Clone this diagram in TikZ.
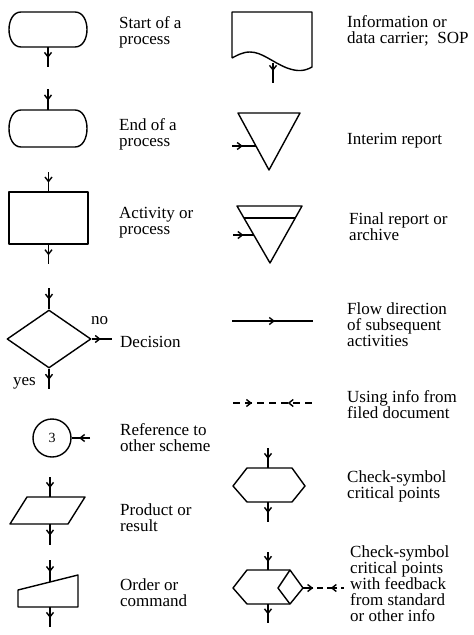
\documentclass[tikz,border=0pt]{standalone}
\usepackage{fontspec}
\setmainfont{Liberation Serif}
\usetikzlibrary{arrows.meta,decorations.markings,shapes.geometric}
\begin{document}
\begin{tikzpicture}[x=1pt,y=-1pt,
  shp/.style={draw, line width=1.4pt, line join=round},
  tipfwd/.style={decoration={markings, mark=at position #1 with {\arrow{Straight Barb[length=4.5pt,width=7pt,line width=1.4pt]}}}, postaction={decorate}},
  tiptwo/.style 2 args={decoration={markings,
      mark=at position #1 with {\arrow{Straight Barb[length=4.5pt,width=7pt,line width=1.4pt]}},
      mark=at position #2 with {\arrow{Straight Barb[length=4.5pt,width=7pt,line width=1.4pt,reversed]}}}, postaction={decorate}},
  conn/.style={line width=1.8pt, tipfwd=#1},
  conn/.default=0.55,
  lbl/.style={anchor=north west, inner sep=0pt, align=left, font=\fontsize{17}{16}\selectfont},
  lblb/.style={anchor=base west, inner sep=0pt, font=\fontsize{17}{16}\selectfont},
]
\useasboundingbox[fill=white] (0,0) rectangle (474,635);

% ---------- left column ----------
% Start of a process
\draw[shp] (21,12) -- (75,12) .. controls (91,12) and (91,47) .. (75,47) -- (21,47) .. controls (5,47) and (5,12) .. (21,12);
\coordinate (s1b) at (48,47); \coordinate (s1e) at (48,67);
\draw[conn] (s1b) -- (s1e);
\node[lbl] (t1) at (119,16) {Start of a\\process};

% End of a process
\draw[shp] (21,110) -- (75,110) .. controls (91,110) and (91,147) .. (75,147) -- (21,147) .. controls (5,147) and (5,110) .. (21,110);
\coordinate (s2a) at (48,89); \coordinate (s2b) at (48,110);
\draw[conn] (s2a) -- (s2b);
\node[lbl] (t2) at (119,118) {End of a\\process};

% Activity
\node[shp, rectangle, minimum width=79pt, minimum height=52pt, inner sep=0pt] (act) at (48.5,218) {};
\coordinate (acta) at (48.5,172); \coordinate (actb) at (48.5,264);
\draw[conn] (acta) -- (act.north);
\draw[conn] (act.south) -- (actb);
\node[lbl] (t3) at (119,207) {Activity or\\process};

% Decision
\node[shp, diamond, minimum width=84pt, minimum height=58pt, inner sep=0pt] (dec) at (49,339) {};
\coordinate (deca) at (49,288); \coordinate (decno) at (112,339); \coordinate (decyes) at (49,389);
\draw[conn] (deca) -- (dec.north);
\draw[conn=0.45] (dec.east) -- (decno);
\draw[conn] (dec.south) -- (decyes);
\node[lblb] (tno) at (91,324) {no};
\node[lblb] (tyes) at (13,385) {yes};
\node[lblb] (t4) at (120,347) {Decision};

% Reference
\node[shp, circle, minimum size=38pt, inner sep=0pt, font=\fontsize{14}{14}\selectfont] (ref) at (52,438) {3};
\coordinate (refa) at (90,438);
\draw[conn=0.6] (refa) -- (ref.east);
\node[lbl] (t5) at (120,423) {Reference to\\other scheme};

% Product
\draw[shp] (27,497) -- (85,497) -- (68,524) -- (10,524) -- cycle;
\coordinate (pa) at (50,477); \coordinate (pb) at (50,497);
\coordinate (pc) at (50,524); \coordinate (pd) at (50,545);
\draw[conn] (pa) -- (pb);
\draw[conn] (pc) -- (pd);
\node[lbl] (t6) at (120,503) {Product or\\result};

% Order
\draw[shp] (18,590) -- (78,575) -- (78,607) -- (18,607) -- cycle;
\coordinate (oa) at (50,560); \coordinate (ob) at (50,582);
\coordinate (oc) at (50,607); \coordinate (od) at (50,627);
\draw[conn] (oa) -- (ob);
\draw[conn] (oc) -- (od);
\node[lbl] (t7) at (120,578) {Order or\\command};

% ---------- right column ----------
% Information
\draw[shp] (232,58) -- (232,12) -- (312,12) -- (312,67)
  .. controls (305,71) and (298,72) .. (287,68)
  .. controls (272,62) and (262,52) .. (250,52)
  .. controls (242,52) and (236,56) .. (232,58);
\coordinate (ia) at (273,63); \coordinate (ib) at (273,83);
\draw[conn=0.4] (ia) -- (ib);
\node[lbl] (t8) at (347,15) {Information or\\data carrier;\ \ SOP};

% Interim report
\draw[shp] (238,113) -- (300,113) -- (269,170) -- cycle;
\coordinate (ira) at (232,146); \coordinate (irb) at (256,146);
\draw[conn=0.45] (ira) -- (irb);
\node[lblb] (t9) at (347,144) {Interim report};

% Final report
\draw[shp] (237,206) -- (302,206) -- (270,263) -- cycle;
\draw[shp] (244,218) -- (295,218);
\coordinate (fra) at (233,235); \coordinate (frb) at (254,235);
\draw[conn=0.5, line width=2.2pt] (fra) -- (frb);
\node[lbl] (t10) at (349,213) {Final report or\\archive};

% Flow direction
\coordinate (fla) at (232,321); \coordinate (flb) at (313,321);
\draw[conn=0.53] (fla) -- (flb);
\node[lbl] (t11) at (347,302) {Flow direction\\of subsequent\\activities};

% Using info
\coordinate (ua) at (233,403); \coordinate (ub) at (314,403);
\draw[line width=1.8pt, dash pattern=on 7pt off 5pt, tiptwo={0.235}{0.753}] (ua) -- (ub);
\node[lbl] (t12) at (347,390) {Using info from\\filed document};

% Check-symbol
\draw[shp] (247,468) -- (292,468) -- (305,486) -- (292,502) -- (247,502) -- (233,486) -- cycle;
\coordinate (ca) at (268,448); \coordinate (cb) at (268,468);
\coordinate (cc) at (268,502); \coordinate (cd) at (268,522);
\draw[conn] (ca) -- (cb);
\draw[conn] (cc) -- (cd);
\node[lbl] (t13) at (347,470) {Check-symbol\\critical points};

% Check-symbol with feedback
\draw[shp] (247,570) -- (290,570) -- (303,588) -- (290,604) -- (247,604) -- (233,588) -- cycle;
\draw[shp] (290,570) -- (278,588) -- (290,604);
\coordinate (ka) at (268,552); \coordinate (kb) at (268,570);
\coordinate (kc) at (268,604); \coordinate (kd) at (268,623);
\coordinate (ke) at (303,588); \coordinate (kf) at (344,588);
\draw[conn] (ka) -- (kb);
\draw[conn] (kc) -- (kd);
\draw[line width=1.8pt, dash pattern=on 10pt off 4pt on 6pt off 4pt, tiptwo={0.25}{0.83}] (ke) -- (kf);
\node[lbl] (t14) at (350,545) {Check-symbol\\critical points\\with feedback\\from standard\\or other info};
\end{tikzpicture}
\end{document}
